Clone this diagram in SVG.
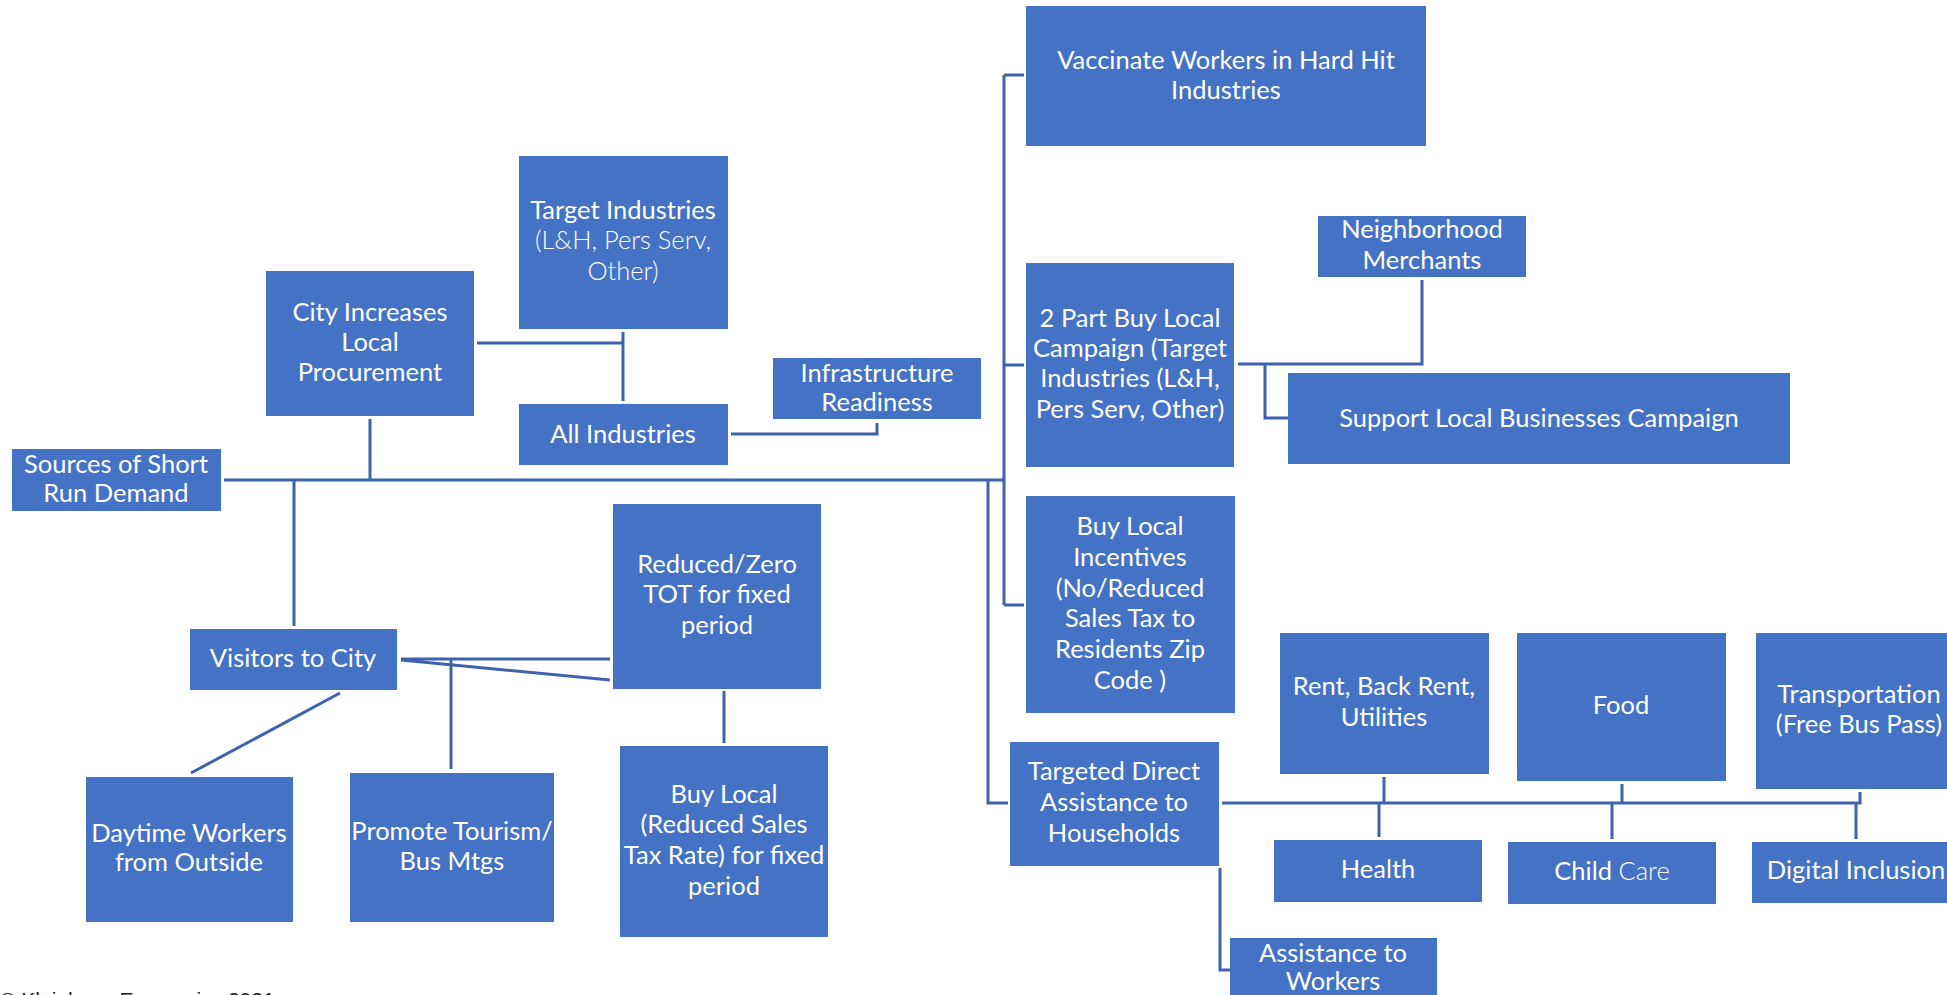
<svg xmlns="http://www.w3.org/2000/svg" width="1947" height="995" viewBox="0 0 1947 995">
<style>
.box{fill:#4472C4;}
.t{font-family:Lato,"Liberation Sans",sans-serif;font-size:25.5px;fill:#ffffff;text-anchor:middle;}
.l{font-weight:300;}
.c{fill:none;stroke:#3E63AD;stroke-width:3;}
.copy{font-family:"Liberation Sans",Arial,sans-serif;font-size:21px;fill:#1a1a1a;}
</style>
<rect width="1947" height="995" fill="#ffffff"/>
<g id="connectors">
<path class="c" d="M224 480H1004"/>
<path class="c" d="M370 419V480"/>
<path class="c" d="M294 480V626"/>
<path class="c" d="M477 343H623M623 332V401"/>
<path class="c" d="M731 434H877V423"/>
<path class="c" d="M1004 75V605M1004 75H1024M1004 365H1024M1004 605H1024"/>
<path class="c" d="M988 480V803H1008"/>
<path class="c" d="M1238 364H1422V280"/>
<path class="c" d="M1265 365V418H1288"/>
<path class="c" d="M401 659H610M401 660L610 680"/>
<path class="c" d="M451 659V769"/>
<path class="c" d="M340 693L191 773"/>
<path class="c" d="M724 691V743"/>
<path class="c" d="M1222 803H1860V792"/>
<path class="c" d="M1384 777V803M1379 803V837M1622 784V803M1612 803V839M1856 803V839"/>
<path class="c" d="M1220 868V970H1230"/>
</g>
<g id="n-sources"><rect class="box" x="12" y="449" width="209" height="62"/><text class="t" x="116" y="473">Sources of Short</text><text class="t" x="116" y="502">Run Demand</text></g>
<g id="n-city"><rect class="box" x="266" y="271" width="208" height="145"/><text class="t" x="370" y="321">City Increases</text><text class="t" x="370" y="351">Local</text><text class="t" x="370" y="381">Procurement</text></g>
<g id="n-target"><rect class="box" x="519" y="156" width="209" height="173"/><text class="t" x="623" y="219">Target Industries</text><text class="t l" x="623" y="249">(L&amp;H, Pers Serv,</text><text class="t l" x="623" y="280">Other)</text></g>
<g id="n-all"><rect class="box" x="519" y="404" width="209" height="61"/><text class="t" x="623" y="443">All Industries</text></g>
<g id="n-infra"><rect class="box" x="773" y="358" width="208" height="61"/><text class="t" x="877" y="382">Infrastructure</text><text class="t" x="877" y="411">Readiness</text></g>
<g id="n-vaccinate"><rect class="box" x="1026" y="6" width="400" height="140"/><text class="t" x="1226" y="69">Vaccinate Workers in Hard Hit</text><text class="t" x="1226" y="99">Industries</text></g>
<g id="n-2part"><rect class="box" x="1026" y="263" width="208" height="204"/><text class="t" x="1130" y="327">2 Part Buy Local</text><text class="t" x="1130" y="357">Campaign (Target</text><text class="t" x="1130" y="387">Industries (L&amp;H,</text><text class="t" x="1130" y="418">Pers Serv, Other)</text></g>
<g id="n-neighborhood"><rect class="box" x="1318" y="216" width="208" height="61"/><text class="t" x="1422" y="238">Neighborhood</text><text class="t" x="1422" y="269">Merchants</text></g>
<g id="n-support"><rect class="box" x="1288" y="373" width="502" height="91"/><text class="t" x="1539" y="427">Support Local Businesses Campaign</text></g>
<g id="n-incentives"><rect class="box" x="1026" y="496" width="209" height="217"/><text class="t" x="1130" y="535">Buy Local</text><text class="t" x="1130" y="566">Incentives</text><text class="t" x="1130" y="597">(No/Reduced</text><text class="t" x="1130" y="627">Sales Tax to</text><text class="t" x="1130" y="658">Residents Zip</text><text class="t" x="1130" y="689">Code )</text></g>
<g id="n-targeted"><rect class="box" x="1010" y="742" width="209" height="124"/><text class="t" x="1114" y="780">Targeted Direct</text><text class="t" x="1114" y="811">Assistance to</text><text class="t" x="1114" y="842">Households</text></g>
<g id="n-rent"><rect class="box" x="1280" y="633" width="209" height="141"/><text class="t" x="1384" y="695">Rent, Back Rent,</text><text class="t" x="1384" y="726">Utilities</text></g>
<g id="n-food"><rect class="box" x="1517" y="633" width="209" height="148"/><text class="t" x="1621" y="714">Food</text></g>
<g id="n-transport"><rect class="box" x="1756" y="633" width="208" height="156"/><text class="t" x="1859" y="703">Transportation</text><text class="t" x="1859" y="733">(Free Bus Pass)</text></g>
<g id="n-health"><rect class="box" x="1274" y="840" width="208" height="62"/><text class="t" x="1378" y="878">Health</text></g>
<g id="n-childcare"><rect class="box" x="1508" y="842" width="208" height="62"/><text class="t" x="1612" y="880">Child <tspan class="l">Care</tspan></text></g>
<g id="n-digital"><rect class="box" x="1752" y="842" width="208" height="61"/><text class="t" x="1856" y="879">Digital Inclusion</text></g>
<g id="n-workers"><rect class="box" x="1230" y="938" width="207" height="70"/><text class="t" x="1333" y="962">Assistance to</text><text class="t" x="1333" y="990">Workers</text></g>
<g id="n-visitors"><rect class="box" x="190" y="629" width="207" height="61"/><text class="t" x="293" y="667">Visitors to City</text></g>
<g id="n-tot"><rect class="box" x="613" y="504" width="208" height="185"/><text class="t" x="717" y="573">Reduced/Zero</text><text class="t" x="717" y="603">TOT for fixed</text><text class="t" x="717" y="634">period</text></g>
<g id="n-daytime"><rect class="box" x="86" y="777" width="207" height="145"/><text class="t" x="189" y="842">Daytime Workers</text><text class="t" x="189" y="871">from Outside</text></g>
<g id="n-tourism"><rect class="box" x="350" y="773" width="204" height="149"/><text class="t" x="452" y="840">Promote Tourism/</text><text class="t" x="452" y="870">Bus Mtgs</text></g>
<g id="n-buylocal"><rect class="box" x="620" y="746" width="208" height="191"/><text class="t" x="724" y="803">Buy Local</text><text class="t" x="724" y="833">(Reduced Sales</text><text class="t" x="724" y="864">Tax Rate) for fixed</text><text class="t" x="724" y="895">period</text></g>
<text class="copy" x="0" y="1007">© Kleinhenz Economics 2021</text>
</svg>
